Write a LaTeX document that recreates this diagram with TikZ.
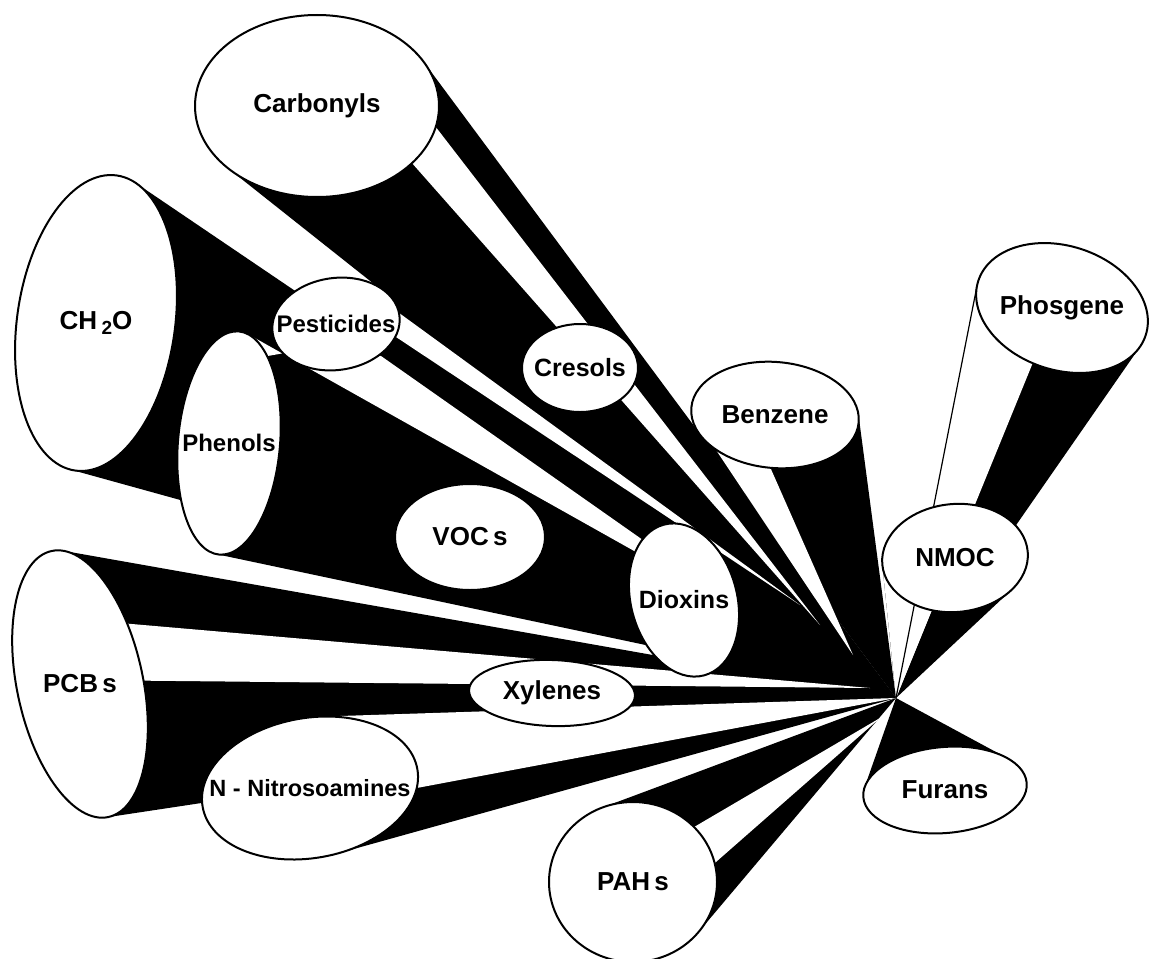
\documentclass[tikz,border=0pt]{standalone}
\usepackage{fontspec}
\setmainfont{Liberation Sans}
\usetikzlibrary{shapes.geometric,calc}

\pgfdeclarelayer{front}
\pgfsetlayers{main,front}

% all cones meet here (units are pixels of the drawing)
\def\apx{896}\def\apy{698}

% an ellipse with its text, kept on the front layer
\newcommand{\blob}[7]{%
  \expandafter\xdef\csname #1@p\endcsname{{#2}{#3}{#4}{#5}{#6}}%
  \begin{pgfonlayer}{front}
    \node[ell, minimum width=2*#4, minimum height=2*#5, rotate={-(#6)}] (#1) at (#2,#3) {};
    \node[lbl] (#1-t) at (#2,#3) {#7};
  \end{pgfonlayer}}

% black cone from the apex to the two tangent points (#1-a), (#1-b)
\newcommand{\cone}[1]{%
  \expandafter\expandafter\expandafter\conecalc\csname #1@p\endcsname{#1}}
\newcommand{\conecalc}[6]{%
  \pgfmathsetmacro\du{((\apx-#1)*cos(#5)+(\apy-#2)*sin(#5))/#3}%
  \pgfmathsetmacro\dv{((\apy-#2)*cos(#5)-(\apx-#1)*sin(#5))/#4}%
  \pgfmathsetmacro\pz{atan2(\dv,\du)}%
  \pgfmathsetmacro\dl{acos(1/sqrt(\du*\du+\dv*\dv))}%
  \foreach \s/\t in {-1/a,1/b}{%
    \pgfmathsetmacro\ph{\pz+\s*\dl}%
    \pgfmathsetmacro\ex{#1+#3*cos(\ph)*cos(#5)-#4*sin(\ph)*sin(#5)}%
    \pgfmathsetmacro\ey{#2+#3*cos(\ph)*sin(#5)+#4*sin(\ph)*cos(#5)}%
    \coordinate (#6-\t) at (\ex,\ey);}%
  \fill (apex) -- (#6-a) -- (#6-b) -- cycle;}

% white stripe: ellipse, two rim points, tip
\newcommand{\shine}[4]{%
  \fill[white] (#4) -- (#2) -- (#1.center) -- (#3) -- cycle;}

\begin{document}
\begin{tikzpicture}[x=1pt,y=-1pt,
  ell/.style={ellipse, draw, fill=white, line width=2pt, inner sep=0pt, outer sep=0pt},
  lbl/.style={font=\fontsize{26}{30}\selectfont\bfseries, inner sep=0pt}]
\useasboundingbox (0,0) rectangle (1153,958);
\coordinate (apex) at (\apx,\apy);

% ellipses, far to near
\blob{ch2o}{96}{323}{79}{149}{8}{CH\,\raisebox{-0.4ex}{\fontsize{19}{19}\selectfont 2}O}
\blob{carb}{317}{106}{122}{91}{0}{Carbonyls}
\blob{pcbs}{80}{684}{63}{136}{-12}{PCB\,s}
\blob{phen}{229}{443}{51}{112}{5}{\fontsize{24}{28}\selectfont Phenols}
\blob{pest}{336}{324}{64}{46}{-8}{\fontsize{24}{28}\selectfont Pesticides}
\blob{nitro}{310}{788}{109}{70}{-10}{\fontsize{23.5}{28}\selectfont N - Nitrosoamines}
\blob{vocs}{470}{537}{75}{53}{0}{VOC\,s}
\blob{cres}{580}{368}{58}{44}{0}{\fontsize{25}{28}\selectfont Cresols}
\blob{phos}{1062}{308}{88}{62}{18}{Phosgene}
\blob{xyl}{552}{693}{83}{33}{2}{Xylenes}
\blob{pahs}{633}{882}{84}{80}{0}{PAH\,s}
\blob{benz}{775}{415}{84}{53}{5}{Benzene}
\blob{diox}{684}{600}{53}{78}{-15}{\fontsize{25}{28}\selectfont Dioxins}
\blob{nmoc}{955}{558}{73}{54}{-5}{NMOC}
\blob{furans}{945}{790}{82}{43}{-5}{Furans}

% cones
\cone{ch2o}
\cone{carb}
\cone{pcbs}
\cone{phen}
\cone{pest}
\cone{nitro}
\cone{vocs}
\cone{cres}
\cone{phos}
\cone{xyl}
\cone{pahs}
\cone{benz}
\cone{diox}
\cone{nmoc}
\cone{furans}

% light stripes
\shine{carb}{carb.-10}{carb.-31}{820,625}
\shine{pest}{pest.2}{pest.-20}{800,605}
\fill[white] (381,356) -- (650,545) -- ($(phen-a)!0.64!(apex)$) -- (phen-a)
  -- (245,360) -- (330,345) -- cycle;
\shine{pcbs}{pcbs.40}{pcbs.-9}{870,688}
\shine{nitro}{nitro-a}{nitro.-10}{apex}
\shine{pahs}{pahs.42}{pahs.13}{880,718}
\shine{benz}{benz.215}{benz.270}{853,655}
\shine{phos}{phos-b}{phos.260}{apex}
\shine{nmoc}{nmoc-b}{nmoc.241}{apex}
\draw[line width=1.2pt] (apex) -- (phos-b);
\end{tikzpicture}
\end{document}
